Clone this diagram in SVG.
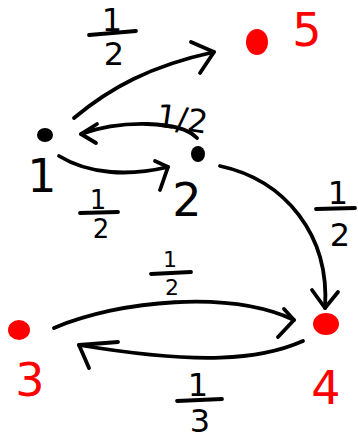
<svg xmlns="http://www.w3.org/2000/svg" width="358" height="440" viewBox="0 0 358 440">
<style>
.e{fill:none;stroke:#000;stroke-width:3.8;stroke-linecap:round;stroke-linejoin:round}
.bar{stroke:#000;stroke-width:3.8;stroke-linecap:round}
.t{font-family:"DejaVu Sans",sans-serif;font-size:32px;fill:#000;text-anchor:middle}
.s{font-size:26px}
.xs{font-size:22px}
.nl{font-family:"DejaVu Sans",sans-serif;font-size:46px;text-anchor:middle}
.blk{fill:#000}
.red{fill:#f00}
</style>
<rect width="358" height="440" fill="#fff"/>
<g id="connectors">
  <g id="e15">
    <path class="e" d="M74,118 C110,88 150,66 214,52"/>
    <path class="e" d="M191,42 L214,52 L200,73"/>
    <text class="t" x="112" y="31">1</text>
    <line class="bar" x1="89" y1="35" x2="136" y2="31"/>
    <text class="t" x="114" y="65">2</text>
  </g>
  <g id="e21">
    <path class="e" d="M197,138 C180,120 120,120 81,134"/>
    <path class="e" d="M97,124 L81,134 L96,143"/>
    <text class="t" x="182" y="130" font-size="30" transform="rotate(8 182 120)">1/2</text>
  </g>
  <g id="e12">
    <path class="e" d="M59,156 C90,175 130,176 168,167"/>
    <path class="e" d="M155,161 L168,167 L160,190"/>
    <text class="t s" x="98" y="209">1</text>
    <line class="bar" x1="80" y1="213" x2="118" y2="212"/>
    <text class="t s" x="101" y="238">2</text>
  </g>
  <g id="e24">
    <path class="e" d="M220,166 C285,180 330,235 325,308"/>
    <path class="e" d="M312,290 L325,308 L338,292"/>
    <text class="t" x="338" y="204">1</text>
    <line class="bar" x1="316" y1="209" x2="355" y2="208"/>
    <text class="t" x="340" y="246">2</text>
  </g>
  <g id="e34">
    <path class="e" d="M54,328 C120,300 230,290 294,320"/>
    <path class="e" d="M284,309 L294,320 L278,337"/>
    <text class="t xs" x="170" y="267">1</text>
    <line class="bar" x1="151" y1="274" x2="191" y2="272"/>
    <text class="t xs" x="172" y="295">2</text>
  </g>
  <g id="e43">
    <path class="e" d="M303,341 C260,360 200,365 79,345"/>
    <path class="e" d="M118,342 L79,345 L89,368"/>
    <text class="t" x="198" y="396" font-size="28">1</text>
    <line class="bar" x1="177" y1="401" x2="222" y2="399"/>
    <text class="t" x="200" y="432" font-size="28">3</text>
  </g>
</g>
<g id="n1">
  <ellipse class="blk" cx="45" cy="135" rx="8" ry="7"/>
  <text class="nl blk" x="42" y="192" font-size="40">1</text>
</g>
<g id="n2">
  <ellipse class="blk" cx="198" cy="154" rx="7" ry="8"/>
  <text class="nl blk" x="187" y="216" font-size="42">2</text>
</g>
<g id="n5">
  <ellipse class="red" cx="257" cy="42" rx="11" ry="13"/>
  <text class="nl red" x="307" y="46">5</text>
</g>
<g id="n3">
  <ellipse class="red" cx="19" cy="330" rx="11" ry="10"/>
  <text class="nl red" x="30" y="396">3</text>
</g>
<g id="n4">
  <ellipse class="red" cx="326" cy="324" rx="13" ry="11"/>
  <text class="nl red" x="326" y="404" font-size="52">4</text>
</g>
</svg>
